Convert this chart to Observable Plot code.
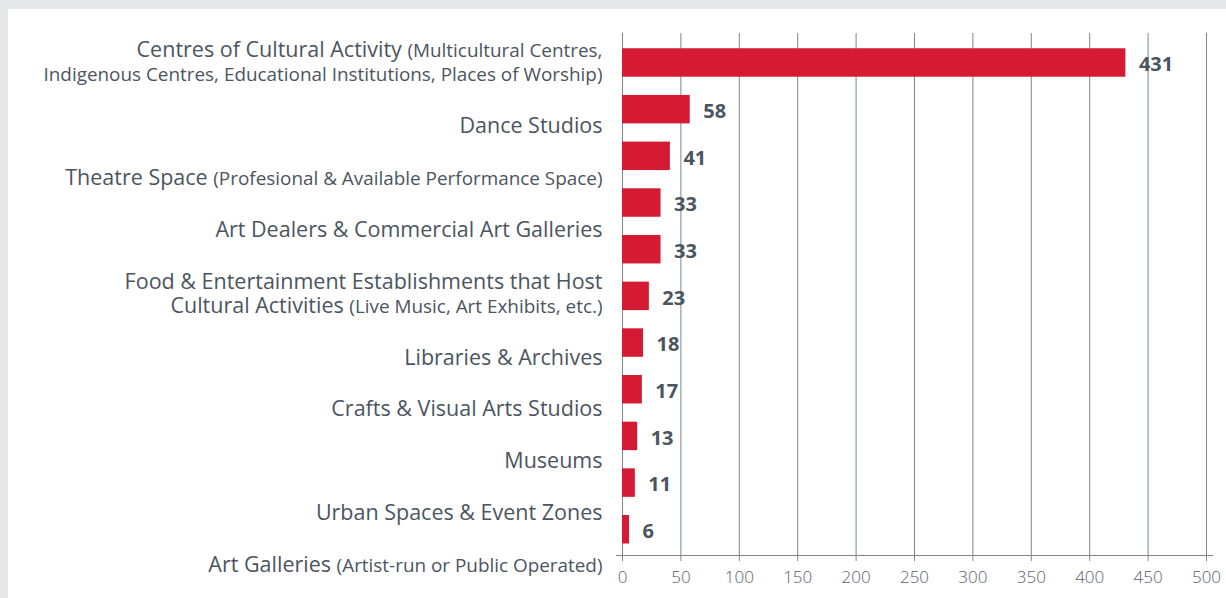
<!DOCTYPE html>
<html>
<head>
<meta charset="utf-8">
<script src="https://cdn.jsdelivr.net/npm/d3@7"></script>
<script src="https://cdn.jsdelivr.net/npm/@observablehq/plot@0.6"></script>
<style>
  html, body { margin: 0; padding: 0; background: #e6e7e8; width: 1226px; height: 598px; overflow: hidden; }
  #panel { position: absolute; left: 8px; top: 9px; width: 1218px; height: 589px; background: #ffffff; }
  #panel svg { position: absolute; left: 0; top: 0; }
</style>
</head>
<body>
<div id="panel"></div>
<script>
// ---- data ----
const labels = [
  "Centres of Cultural Activity (Multicultural Centres,\nIndigenous Centres, Educational Institutions, Places of Worship)",
  "Dance Studios",
  "Theatre Space (Profesional & Available Performance Space)",
  "Art Dealers & Commercial Art Galleries",
  "Food & Entertainment Establishments that Host\nCultural Activities (Live Music, Art Exhibits, etc.)",
  "Libraries & Archives",
  "Crafts & Visual Arts Studios",
  "Museums",
  "Urban Spaces & Event Zones",
  "Art Galleries (Artist-run or Public Operated)"
];
const values = [431, 58, 41, 33, 33, 23, 18, 17, 13, 11, 6];
const xTicks = [0, 50, 100, 150, 200, 250, 300, 350, 400, 450, 500];

// ---- style ----
const W = 1218, H = 589;
const FONT = "'Open Sans', 'Noto Sans', sans-serif";
const TEXT = "#4b5561";
const RED = "#d51b34";
const GRID = "#7e868d";
const MAIN_SIZE = 21.5, SMALL_SIZE = 18.9;
const ITEM_STEP = 51.8, LINE_STEP = 23.8;

const panel = document.getElementById("panel");

// ---- bars ----
const bars = values.map((v, i) => ({rank: i, value: v}));
const barPlot = Plot.plot({
  width: W, height: H,
  marginLeft: 614, marginRight: 20, marginTop: 24, marginBottom: 43,
  style: {background: "transparent", fontFamily: FONT, color: TEXT, overflow: "visible"},
  x: {domain: [0, 500], label: null},
  y: {domain: d3.range(values.length), paddingInner: 0.39, paddingOuter: 0.2865, align: 0.57, round: false, axis: null},
  marks: [
    Plot.gridX(xTicks, {stroke: GRID, strokeOpacity: 1, strokeWidth: 1}),
    Plot.barX(bars, {x: "value", y: "rank", fill: RED}),
    Plot.frame({anchor: "bottom", stroke: GRID, strokeOpacity: 1, insetLeft: -6, insetRight: -6}),
    Plot.axisX(xTicks, {tickSize: 6, tickPadding: 9.5, stroke: GRID, strokeOpacity: 1, fontSize: 17, fontWeight: 300, fill: "#59626b", label: null}),
    Plot.text(bars, {x: "value", y: "rank", text: d => String(d.value), textAnchor: "start", dx: 13, dy: 2,
      fontSize: 20, fontWeight: 700, fill: TEXT})
  ]
});
panel.appendChild(barPlot);

// ---- labels (text block laid out line by line) ----
const lineRows = [];
const lineSegs = [];
let pos = 0;
labels.forEach((lab, i) => {
  let inParen = false;
  lab.split("\n").forEach((line, j) => {
    if (i > 0 || j > 0) pos += (j === 0 ? ITEM_STEP : LINE_STEP);
    lineRows.push({text: line, pos});
    const segs = [];
    let cur = "", curSmall = inParen;
    for (const ch of line) {
      if (ch === "(" && !inParen) {
        if (cur) segs.push({t: cur, small: false});
        cur = "("; inParen = true; curSmall = true; continue;
      }
      cur += ch;
      if (ch === ")" && inParen) {
        segs.push({t: cur, small: true});
        cur = ""; inParen = false; curSmall = false;
      }
    }
    if (cur) segs.push({t: cur, small: curSmall});
    lineSegs.push(segs);
  });
});

const labelPlot = Plot.plot({
  width: W, height: H,
  marginLeft: 0, marginRight: W - 594, marginTop: 0, marginBottom: 0,
  style: {background: "transparent", fontFamily: FONT, color: TEXT, overflow: "visible"},
  x: {axis: null},
  y: {domain: [0, pos], range: [47.7, 562.7], axis: null},
  marks: [
    Plot.text(lineRows, {y: "pos", text: "text", frameAnchor: "right", textAnchor: "end", lineAnchor: "bottom",
      fontSize: MAIN_SIZE, fill: TEXT})
  ]
});
panel.appendChild(labelPlot);

// split each line into main / parenthetical runs with their own sizes
labelPlot.querySelectorAll('g[aria-label="text"] text').forEach((el, k) => {
  const segs = lineSegs[k];
  if (!segs) return;
  el.textContent = "";
  el.setAttribute("style", "white-space: pre");
  segs.forEach(s => {
    const ts = document.createElementNS("http://www.w3.org/2000/svg", "tspan");
    ts.setAttribute("font-size", s.small ? SMALL_SIZE : MAIN_SIZE);
    ts.textContent = s.t;
    el.appendChild(ts);
  });
});
</script>
</body>
</html>
